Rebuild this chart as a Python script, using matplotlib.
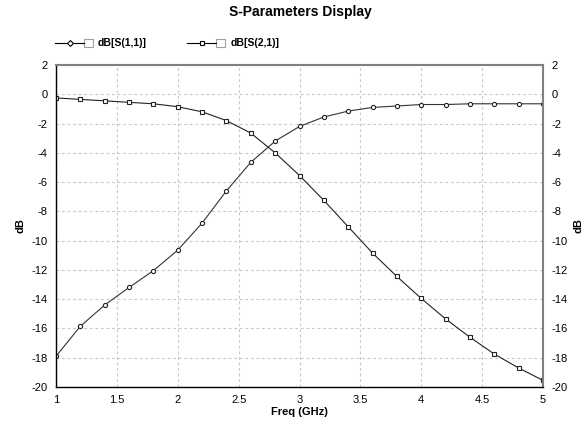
# coding: utf-8
'''
S-parameter plot, dB vs frequency
'''

import matplotlib
matplotlib.use('Agg')
import matplotlib.pyplot as plt
from matplotlib.lines import Line2D
from matplotlib.patches import Rectangle

plt.rcParams['font.family'] = ['Liberation Sans', 'DejaVu Sans']
plt.rcParams['axes.unicode_minus'] = False

freq = [1.0, 1.2, 1.4, 1.6, 1.8, 2.0, 2.2, 2.4, 2.6, 2.8, 3.0,
        3.2, 3.4, 3.6, 3.8, 4.0, 4.2, 4.4, 4.6, 4.8, 5.0]
s11 = [-17.9, -15.85, -14.4, -13.2, -12.05, -10.65, -8.8, -6.6, -4.65, -3.2, -2.2,
       -1.55, -1.15, -0.9, -0.8, -0.7, -0.7, -0.65, -0.65, -0.65, -0.65]
s21 = [-0.25, -0.35, -0.45, -0.55, -0.65, -0.85, -1.2, -1.8, -2.65, -4.0, -5.55,
       -7.25, -9.05, -10.85, -12.45, -13.95, -15.35, -16.6, -17.75, -18.7, -19.55]
names = ['dB[S(1,1)]', 'dB[S(2,1)]']
xticks = [1, 1.5, 2, 2.5, 3, 3.5, 4, 4.5, 5]
yticks = list(range(-20, 3, 2))

W, H = 587, 425
fig = plt.figure(figsize=(W / 100, H / 100), dpi=100)
ax = fig.add_axes([56 / W, 1 - 387 / H, (543 - 56) / W, (387 - 65) / H])

ax.plot(freq, s11, color='#333333', lw=0.8, marker='o', ms=3,
        mfc='white', mec='#222222', mew=0.8)
ax.plot(freq, s21, color='#222222', lw=0.8, marker='s', ms=2.8,
        mfc='white', mec='#222222', mew=0.8)

ax.set_xlim(1, 5)
ax.set_ylim(-20, 2)
ax.set_xticks(xticks)
ax.set_xticklabels(['1', '1.5', '2', '2.5', '3', '3.5', '4', '4.5', '5'])
ax.set_yticks(yticks)
ax.grid(True, ls=(0, (2.5, 2.5)), color='#c8c8c8', lw=0.8)
ax.tick_params(length=0, labelsize=8, pad=6)
for s in ['left', 'bottom']:
    ax.spines[s].set_color('black')
    ax.spines[s].set_linewidth(1.0)
for s in ['top', 'right']:
    ax.spines[s].set_color('#808080')
    ax.spines[s].set_linewidth(1.5)

ax2 = ax.twinx()
ax2.set_ylim(-20, 2)
ax2.set_yticks(yticks)
ax2.tick_params(length=0, labelsize=8, pad=6)
for s in ax2.spines.values():
    s.set_visible(False)

ax.set_ylabel('dB', fontsize=8, fontweight='bold', labelpad=4)
ax2.set_ylabel('dB', fontsize=8, fontweight='bold', labelpad=4, rotation=90)
ax.set_xlabel('Freq (GHz)', fontsize=8, fontweight='bold', labelpad=1)

fig.text(300 / W, 1 - 12 / H, 'S-Parameters Display', ha='center', va='center',
         fontsize=10, fontweight='bold')

# legend drawn by hand: line + marker, checkbox, label
legend_x = [(55, 84, 98), (187, 216, 231)]
markers = ['D', 's']
ly = 1 - 43 / H
for (x0, x1, tx), m, name in zip(legend_x, markers, names):
    fig.add_artist(Line2D([x0 / W, x1 / W], [ly, ly], color='black', lw=0.8,
                          transform=fig.transFigure))
    fig.add_artist(Line2D([(x0 + x1) / 2 / W], [ly], marker=m, ms=3, mfc='white',
                          mec='black', mew=0.8, transform=fig.transFigure))
    fig.add_artist(Rectangle((x1 / W, 1 - 47 / H), 9 / W, 8 / H, fill=True,
                             fc='white', ec='#a0a0a0', lw=0.8,
                             transform=fig.transFigure))
    fig.text(tx / W, ly, name, ha='left', va='center', fontsize=7.5,
             fontweight='bold')

fig.savefig('out.png', dpi=100)
